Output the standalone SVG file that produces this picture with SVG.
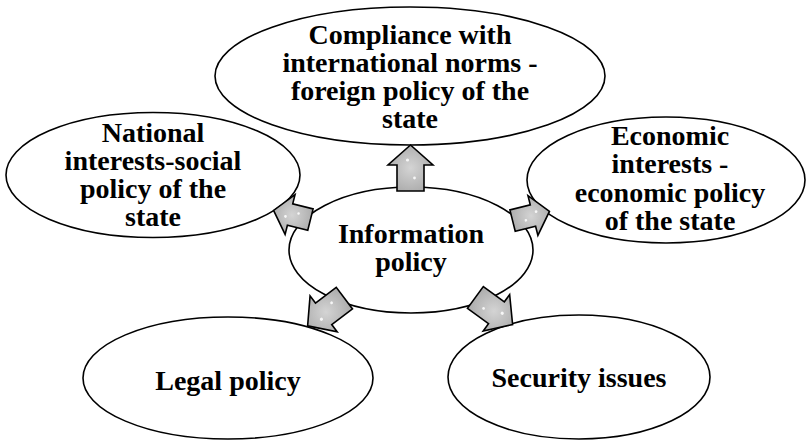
<svg xmlns="http://www.w3.org/2000/svg" width="811" height="442" viewBox="0 0 811 442">
  <style>
    .node ellipse { fill: #ffffff; stroke: #000000; stroke-width: 1.6; }
    .node text { font-weight: bold; font-size: 28px; fill: #000000; text-anchor: middle; }
    .arrow { fill: url(#arrowFill); stroke: #000000; stroke-width: 1.6; stroke-linejoin: miter; }
    .spark { fill: #ffffff; opacity: 0.85; }
  </style>
  <defs>
    <radialGradient id="arrowFill" cx="0.5" cy="0.5" r="0.6">
      <stop offset="0" stop-color="#d4d4d4"/>
      <stop offset="1" stop-color="#a9a9a9"/>
    </radialGradient>
    <!-- block arrows, pointing along +x, centred on the origin -->
    <g id="arrowBig">
      <polygon class="arrow" points="23,0 3,-22.5 3,-13.5 -23,-13.5 -23,13.5 3,13.5 3,22.5"/>
      <circle class="spark" cx="8" cy="-3" r="1.6"/>
      <circle class="spark" cx="-10" cy="4" r="1.4"/>
    </g>
    <g id="arrowSmall">
      <polygon class="arrow" points="19,0 2,-20.5 2,-11 -19,-11 -19,11 2,11 2,20.5"/>
      <circle class="spark" cx="6" cy="-3" r="1.4"/>
      <circle class="spark" cx="-6" cy="3" r="1.3"/>
    </g>
  </defs>

  <g font-family="Liberation Serif, DejaVu Serif, serif">
  <g id="node-foreign" class="node">
    <ellipse cx="410" cy="76" rx="195" ry="69"/>
    <text x="410" y="44">Compliance with</text>
    <text x="410" y="72">international norms -</text>
    <text x="410" y="100">foreign policy of the</text>
    <text x="410" y="128">state</text>
  </g>

  <g id="node-social" class="node">
    <ellipse cx="153" cy="175" rx="147" ry="62.5"/>
    <text x="153" y="142">National</text>
    <text x="153" y="170">interests-social</text>
    <text x="153" y="198">policy of the</text>
    <text x="153" y="226">state</text>
  </g>

  <g id="node-economic" class="node">
    <ellipse cx="666" cy="180" rx="139" ry="63"/>
    <text x="670" y="145">Economic</text>
    <text x="670" y="173">interests -</text>
    <text x="670" y="202">economic policy</text>
    <text x="670" y="230">of the state</text>
  </g>

  <g id="node-legal" class="node">
    <ellipse cx="228" cy="378" rx="145" ry="61"/>
    <text x="228" y="390">Legal policy</text>
  </g>

  <g id="node-security" class="node">
    <ellipse cx="579" cy="377" rx="131" ry="62"/>
    <text x="579" y="387">Security issues</text>
  </g>

  <g id="node-information" class="node">
    <ellipse cx="411" cy="250" rx="122" ry="63"/>
    <text x="411" y="243">Information</text>
    <text x="411" y="271">policy</text>
  </g>
  </g>

  <g id="connectors">
    <use href="#arrowBig" transform="translate(410.5,168) rotate(-90)"/>
    <use href="#arrowSmall" transform="translate(292,215) rotate(194)"/>
    <use href="#arrowSmall" transform="translate(531,216) rotate(-14)"/>
    <use href="#arrowBig" transform="translate(326,312) rotate(143)"/>
    <use href="#arrowBig" transform="translate(494,311) rotate(36)"/>
  </g>
</svg>
